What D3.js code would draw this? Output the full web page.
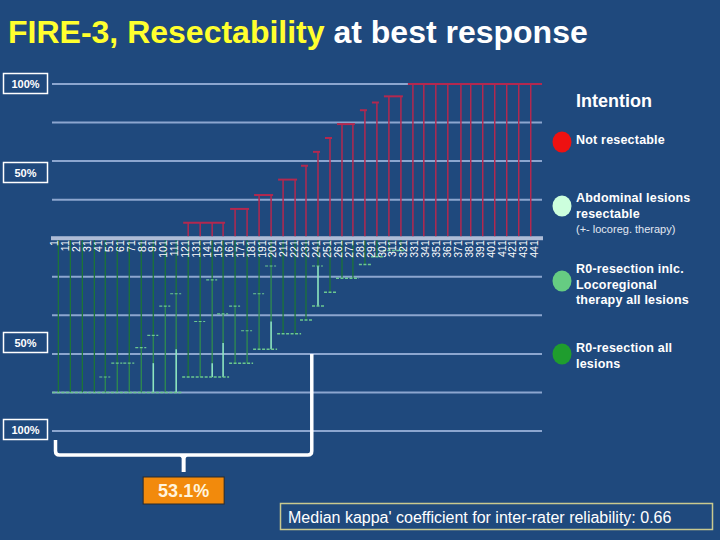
<!DOCTYPE html>
<html><head><meta charset="utf-8">
<script src="https://cdn.jsdelivr.net/npm/d3@7"></script>
<style>
html,body{margin:0;padding:0;background:#1f497d;}
svg{display:block;font-family:"Liberation Sans",Arial,sans-serif;}
</style>
</head><body>
<svg id="c" width="720" height="540"></svg>
<script>
// ---------------- data ----------------
const tickLabels = [1,11,21,31,41,51,61,71,81,91,101,111,121,131,141,151,161,171,181,191,201,211,221,231,241,251,261,271,281,291,301,311,321,331,341,351,361,371,381,391,401,411,421,431,441];
const patients = [5,16,27,38,48,59,70,81,92,103,113,124,135,146,156,167,178,189,200,211,222,232,243,254,265,275,286,297,308,319,330,340,351,362,374,383,394,405,416,427,438];
// % of ratings "not resectable" (drawn upward)
const notResectable = [0,0,0,0,0,0,0,0,0,0,0,10,10,10,10,19,19,28,28,38,38,47,56,65,74,74,83,88,92,92,100,100,100,100,100,100,100,100,100,100,100];
// % of ratings resectable, split by category (drawn downward)
const r0All      = [100,100,100,100,90,81,81,71,63,44,36,90,54,27,49,44,60,36,18,62,62,53,18,35,26,26,17,12,8,8,0,0,0,0,0,0,0,0,0,0,0];
const r0Loco     = [0,0,0,0,10,19,19,29,18,56,36,0,36,54,19,37,21,36,36,0,0,0,0,0,0,0,0,0,0,0,0,0,0,0,0,0,0,0,0,0,0];
const abdominal  = [0,0,0,0,0,0,0,0,19,0,28,0,0,9,22,0,0,0,18,0,0,0,26,0,0,0,0,0,0,0,0,0,0,0,0,0,0,0,0,0,0];
const gridValues = [100,75,50,25,-25,-50,-75,-100,-125];
const legendTitle = "Intention";
const legendNames = [["Not resectable"],["Abdominal lesions","resectable"],["R0-resection inlc.","Locoregional","therapy all lesions"],["R0-resection all","lesions"]];
const legendNote = "(+- locoreg. therapy)";
const resectableShare = 53.1;   // %
const totalPatients = 445;
const kappa = 0.66;

// ---------------- drawing ----------------
const svg = d3.select("#c");
const W = 720, H = 540;
const colors = {bg:"#1f497d", grid:"#8ca6cf", base:"#aebcd6", red:"#b3284f",
  dark:"#1c7438", mid:"#2f8c4e", light:"#8ee6bf", cap:"#6cc890",
  lgRed:"#ee1111", lgLight:"#ccffdd", lgMid:"#66cc82", lgDark:"#1f9d2e"};

svg.append("rect").attr("width",W).attr("height",H).attr("fill",colors.bg);

// title
const title = svg.append("text").attr("x",8).attr("y",43)
  .style("font-size","32px").style("font-weight","bold");
title.append("tspan").attr("fill","#ffff2e").text("FIRE-3, Resectability");
title.append("tspan").attr("fill","#ffffff").text(" at best response");

const x = d3.scaleLinear().domain([1,441]).range([54,534]);
const y = d3.scaleLinear().domain([100,-125]).range([84,431]);
const plotL = 52, plotR = 542;

// gridlines
svg.append("g").selectAll("line").data(gridValues).join("line")
  .attr("x1",plotL).attr("x2",plotR)
  .attr("y1",d=>y(d)).attr("y2",d=>y(d))
  .attr("stroke",colors.grid).attr("stroke-width",2);

// baseline bar
svg.append("rect").attr("x",plotL-1).attr("width",plotR-plotL+2)
  .attr("y",y(0)-2).attr("height",4).attr("fill",colors.base);

const cols = patients.map((p,i)=>({p, red:notResectable[i], d:r0All[i], m:r0Loco[i], l:abdominal[i],
  tot:r0All[i]+r0Loco[i]+abdominal[i]}));

// ---- red (not resectable) ----
const gR = svg.append("g");
gR.selectAll("line").data(cols.filter(c=>c.red>0)).join("line")
  .attr("x1",c=>x(c.p)).attr("x2",c=>x(c.p))
  .attr("y1",y(0)-2).attr("y2",c=>y(c.red))
  .attr("stroke",colors.red).attr("stroke-width",1.5);
// caps over runs of equal value
function runs(key){
  const out=[]; let cur=null;
  cols.forEach((c,i)=>{
    const v=key(c);
    if(cur && cur.v===v){cur.last=i;}
    else {if(cur) out.push(cur); cur={v,first:i,last:i};}
  });
  if(cur) out.push(cur);
  return out.filter(r=>r.v>0);
}
gR.selectAll("path").data(runs(c=>c.red)).join("path")
  .attr("d",r=>{
    const x1 = x(cols[r.first].p)-5;
    const x2 = r.last===cols.length-1 ? plotR : x(cols[r.last].p)+2;
    return `M${x1},${y(r.v)}H${x2}`;})
  .attr("stroke",colors.red).attr("stroke-width",2).attr("fill","none");

// ---- green (resectable) ----
const gG = svg.append("g");
const gc = cols.filter(c=>c.tot>0);
gG.selectAll("line.d").data(gc).join("line").attr("class","d")
  .attr("x1",c=>x(c.p)).attr("x2",c=>x(c.p))
  .attr("y1",y(0)+2).attr("y2",c=>y(-c.d))
  .attr("stroke",colors.dark).attr("stroke-width",1.3);
gG.selectAll("line.m").data(gc.filter(c=>c.m>0)).join("line").attr("class","m")
  .attr("x1",c=>x(c.p)).attr("x2",c=>x(c.p))
  .attr("y1",c=>y(-c.d)).attr("y2",c=>y(-(c.d+c.m)))
  .attr("stroke",colors.mid).attr("stroke-width",1.3);
gG.selectAll("line.l").data(gc.filter(c=>c.l>0)).join("line").attr("class","l")
  .attr("x1",c=>x(c.p)).attr("x2",c=>x(c.p))
  .attr("y1",c=>y(-(c.d+c.m))).attr("y2",c=>y(-c.tot))
  .attr("stroke",colors.light).attr("stroke-width",1.6);
// caps at R0-all level where further categories follow
gG.selectAll("line.k").data(gc.filter(c=>c.m>0||c.l>0)).join("line").attr("class","k")
  .attr("x1",c=>x(c.p)-6).attr("x2",c=>x(c.p)+5)
  .attr("y1",c=>y(-c.d)).attr("y2",c=>y(-c.d))
  .attr("stroke",colors.cap).attr("stroke-width",1.2).attr("stroke-dasharray","3,1.5");
// caps at total level
gG.selectAll("path").data(runs(c=>c.tot)).join("path")
  .attr("d",r=>`M${x(cols[r.first].p)-6},${y(-r.v)}H${x(cols[r.last].p)+6}`)
  .attr("stroke",colors.cap).attr("stroke-width",1.5).attr("stroke-dasharray","3,1.5").attr("fill","none");

// ---- category axis (rotated labels) ----
const ax = svg.append("g").attr("transform",`translate(0,${y(0)+1})`)
  .call(d3.axisBottom(x).tickValues(tickLabels).tickSize(0).tickFormat(d=>String(d)));
ax.select(".domain").remove();
ax.selectAll("text")
  .attr("transform","rotate(-90)").attr("x",-1).attr("y",0).attr("dy","0.36em")
  .style("text-anchor","end").attr("fill","#ffffff")
  .style("font-size","10.5px").style("font-family","'Liberation Sans',Arial,sans-serif");

// ---- percent boxes ----
const boxes = [{t:"100%",y:73.5},{t:"50%",y:162.5},{t:"50%",y:332.5},{t:"100%",y:419.5}];
const gb = svg.append("g");
gb.selectAll("rect").data(boxes).join("rect")
  .attr("x",3.5).attr("y",d=>d.y).attr("width",44).attr("height",20)
  .attr("fill","none").attr("stroke","#ffffff").attr("stroke-width",1.5);
gb.selectAll("text").data(boxes).join("text")
  .attr("x",25.5).attr("y",d=>d.y+14).attr("text-anchor","middle")
  .attr("fill","#ffffff").style("font-size","11px").style("font-weight","bold").text(d=>d.t);

// ---- legend ----
const lg = svg.append("g");
lg.append("text").attr("x",576).attr("y",107).attr("fill","#fff")
  .style("font-size","18px").style("font-weight","bold").text(legendTitle);
const lgItems = [
  {c:colors.lgRed, cy:142, ty:[144]},
  {c:colors.lgLight, cy:206, ty:[202,218]},
  {c:colors.lgMid, cy:281, ty:[272.5,288.5,304]},
  {c:colors.lgDark, cy:354, ty:[352,368]}
];
lgItems.forEach((it,i)=>{
  lg.append("ellipse").attr("cx",562).attr("cy",it.cy).attr("rx",9.5).attr("ry",10.5).attr("fill",it.c);
  legendNames[i].forEach((s,j)=>{
    lg.append("text").attr("x",576).attr("y",it.ty[j]).attr("fill","#fff")
      .style("font-size","12.5px").style("font-weight","bold").style("letter-spacing","0.2px").text(s);
  });
});
lg.append("text").attr("x",576).attr("y",233).attr("fill","#e2e8f2")
  .style("font-size","11px").text(legendNote);

// ---- bracket + share ----
const bx1 = x(1)+1.5, bx2 = x(1 + resectableShare/100*totalPatients), by = 455, bmid=(bx1+bx2)/2;
svg.append("path")
  .attr("d",`M${bx1},440V${by-4}Q${bx1},${by} ${bx1+4},${by}H${bx2-4}Q${bx2},${by} ${bx2},${by-4}V${y(-75)}`)
  .attr("fill","none").attr("stroke","#ffffff").attr("stroke-width",3.5);
svg.append("path").attr("d",`M${bmid-5},${by}L${bmid},${by+5}L${bmid+5},${by}Z`).attr("fill","#fff");
svg.append("line").attr("x1",bmid).attr("x2",bmid).attr("y1",by).attr("y2",472)
  .attr("stroke","#fff").attr("stroke-width",4);
svg.append("rect").attr("x",bmid-40.5).attr("y",477).attr("width",81).attr("height",27)
  .attr("fill","#f28a0c").attr("stroke","#2a2a2a").attr("stroke-width",1);
svg.append("text").attr("x",bmid).attr("y",497).attr("text-anchor","middle")
  .attr("fill","#fff4dc").style("font-size","18px").style("font-weight","bold")
  .text(d3.format(".1f")(resectableShare)+"%");

// ---- kappa box ----
svg.append("rect").attr("x",280.5).attr("y",503.5).attr("width",432).attr("height",26)
  .attr("fill","none").attr("stroke","#c9c98f").attr("stroke-width",1.5);
svg.append("text").attr("x",288).attr("y",523).attr("fill","#ffffff")
  .style("font-size","16px").text(`Median kappa' coefficient for inter-rater reliability: ${kappa}`);
</script>
</body></html>
